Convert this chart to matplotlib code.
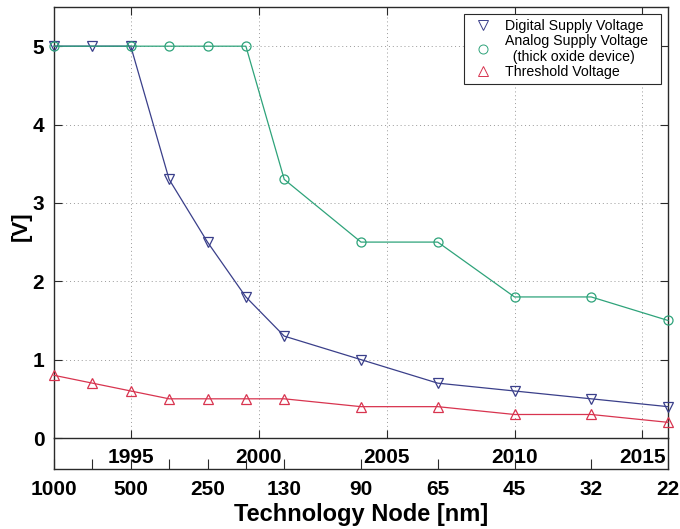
import matplotlib
matplotlib.use('Agg')
import matplotlib.pyplot as plt

# x positions are years; each technology node sits on its year
node_years = [1992, 1993.5, 1995, 1996.5, 1998, 1999.5, 2001, 2004, 2007, 2010, 2013, 2016]
node_labels = ['1000', '', '500', '', '250', '', '130', '90', '65', '45', '32', '22']
year_ticks = [1995, 2000, 2005, 2010, 2015]

digital_v = [5.0, 5.0, 5.0, 3.3, 2.5, 1.8, 1.3, 1.0, 0.7, 0.6, 0.5, 0.4]
analog_years = [1992, 1995, 1996.5, 1998, 1999.5, 2001, 2004, 2007, 2010, 2013, 2016]
analog_v = [5.0, 5.0, 5.0, 5.0, 5.0, 3.3, 2.5, 2.5, 1.8, 1.8, 1.5]
threshold_v = [0.8, 0.7, 0.6, 0.5, 0.5, 0.5, 0.5, 0.4, 0.4, 0.3, 0.3, 0.2]

C_DIG = '#3a3f8a'
C_ANA = '#2ea37a'
C_THR = '#d8344f'
SPINE = '#2a2a2a'

plt.rcParams.update({
    'font.family': ['Liberation Sans', 'DejaVu Sans'],
    'axes.edgecolor': SPINE,
    'axes.linewidth': 1.0,
})

W, H = 680, 529
fig = plt.figure(figsize=(W / 100, H / 100), dpi=100)

x0, x1 = 54, 668
ytop, ybot, ystrip = 7, 438, 469
ax = fig.add_axes([x0 / W, (H - ybot) / H, (x1 - x0) / W, (ybot - ytop) / H])
ax2 = fig.add_axes([x0 / W, (H - ystrip) / H, (x1 - x0) / W, (ystrip - ybot) / H])

style = dict(lw=0.9, mfc='none', mew=0.9, clip_on=False, zorder=3)
ax.plot(node_years, digital_v, color=C_DIG, marker='v', ms=7, mec=C_DIG,
        label='Digital Supply Voltage', **style)
ax.plot(analog_years, analog_v, color=C_ANA, marker='o', ms=6.5, mec=C_ANA,
        label='Analog Supply Voltage  \n  (thick oxide device)', **style)
ax.plot(node_years, threshold_v, color=C_THR, marker='^', ms=7, mec=C_THR,
        label='Threshold Voltage', **style)

ax.set_xlim(1992, 2016)
ax.set_ylim(0, 5.5)
ax.set_yticks(range(6))
ax.set_xticks(year_ticks)
ax.set_xticklabels([str(y) for y in year_ticks], fontsize=15, fontweight='bold')
ax.set_yticklabels([str(v) for v in range(6)], fontsize=15, fontweight='bold')
ax.tick_params(direction='in', length=6, width=0.8, color=SPINE,
               top=True, right=True)
ax.tick_params(axis='x', pad=7)
ax.tick_params(axis='y', pad=7)
ax.grid(True, linestyle=(0, (1, 3)), color='#999999', lw=0.7)

leg = ax.legend(loc='upper right', fontsize=10.2, frameon=True, fancybox=False,
                edgecolor=SPINE, framealpha=1, handlelength=2.0, handletextpad=0.55,
                borderpad=0.35, labelspacing=0.05, borderaxespad=0.5)
leg.get_frame().set_linewidth(0.8)
for h in leg.legend_handles:
    h.set_linestyle('none')
    h.set_markeredgewidth(0.7)

ax2.set_xlim(1992, 2016)
ax2.set_ylim(0, 1)
ax2.set_yticks([])
ax2.set_xticks(node_years)
ax2.set_xticklabels(node_labels, fontsize=15, fontweight='bold')
ax2.tick_params(axis='x', direction='in', length=7, width=0.8, color=SPINE, pad=8)
ax2.spines['top'].set_visible(False)
ax2.patch.set_alpha(0)

fig.text((x0 + x1) / 2 / W, 1 - 514 / H, 'Technology Node [nm]',
         ha='center', va='center', fontsize=17, fontweight='bold')
fig.text(21 / W, 1 - 226 / H, '[V]', rotation=90, ha='center', va='center',
         fontsize=16, fontweight='bold')

fig.savefig('out.png', dpi=100, facecolor='white')
